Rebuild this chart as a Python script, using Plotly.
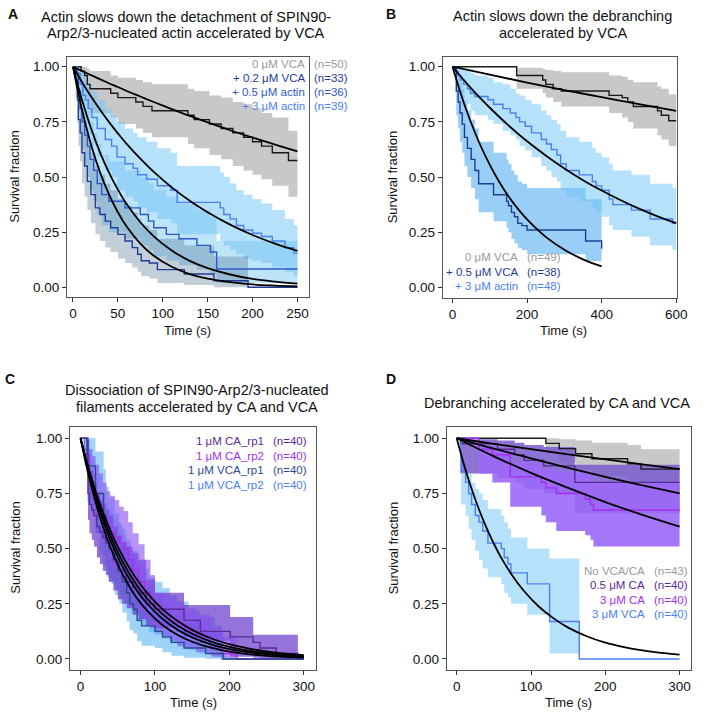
import plotly.graph_objects as go

# ---------------- Panel A data ----------------
A_vca0_t = [0, 9, 13, 16, 19, 42, 50, 70, 78, 88, 128, 135, 152, 165, 178, 190, 200, 210, 222, 240, 250]
A_vca0_s = [1, .98, .96, .92, .90, .88, .86, .84, .82, .80, .78, .76, .74, .72, .70, .68, .66, .64, .61, .575, .575]
A_vca0_hi = [1, 1, 1, .99, .98, .96, .95, .94, .93, .92, .90, .89, .87, .86, .84, .83, .81, .79, .77, .71, .71]
A_vca0_lo = [1, .87, .86, .81, .79, .77, .74, .72, .70, .68, .65, .63, .60, .58, .55, .53, .51, .49, .46, .41, .41]

A_act3_t = [0, 5, 8, 11, 14, 17, 21, 27, 36, 43, 49, 58, 67, 72, 82, 94, 109, 116, 164, 168, 175, 182, 190, 200, 210, 222, 236, 246, 250]
A_act3_s = [1, .97, .92, .87, .85, .81, .77, .72, .67, .64, .59, .56, .54, .51, .49, .46, .44, .385, .36, .33, .31, .28, .26, .245, .23, .21, .18, .155, .155]
A_act3_hi = [1, 1, .99, .97, .95, .92, .89, .85, .81, .78, .75, .72, .70, .68, .66, .63, .61, .55, .52, .50, .47, .44, .42, .40, .38, .35, .31, .28, .28]
A_act3_lo = [1, .92, .84, .77, .74, .69, .64, .59, .53, .50, .44, .41, .39, .36, .34, .31, .29, .24, .21, .19, .17, .15, .13, .12, .11, .09, .07, .05, .05]

A_act05_t = [0, 4, 6, 8, 10, 13, 16, 19, 23, 27, 32, 40, 58, 75, 84, 90, 104, 118, 138, 153, 160, 250]
A_act05_s = [1, .97, .89, .81, .75, .69, .64, .58, .53, .47, .42, .39, .36, .33, .30, .27, .24, .22, .19, .16, .083, .083]
A_act05_hi = [1, 1, .99, .95, .90, .85, .80, .75, .70, .65, .60, .57, .53, .50, .47, .44, .41, .38, .35, .32, .21, .21]
A_act05_lo = [1, .91, .80, .70, .63, .56, .50, .44, .39, .33, .28, .25, .22, .19, .17, .14, .12, .10, .08, .06, .02, .02]

A_vca02_t = [0, 3, 5, 6, 8, 10, 13, 16, 20, 25, 30, 36, 42, 50, 58, 66, 72, 76, 85, 94, 124, 157, 195, 250]
A_vca02_s = [1, .94, .85, .76, .70, .61, .55, .48, .42, .36, .33, .30, .27, .24, .21, .18, .15, .12, .11, .08, .06, .03, 0, 0]
A_vca02_hi = [1, 1, .97, .91, .86, .79, .73, .67, .61, .55, .51, .47, .44, .40, .37, .34, .31, .28, .26, .22, .19, .14, 0, 0]
A_vca02_lo = [1, .86, .74, .64, .57, .47, .41, .35, .29, .24, .21, .18, .16, .13, .11, .09, .07, .05, .04, .02, .01, 0, 0, 0]

A_fit_t = [0, 5, 10, 20, 30, 40, 50, 60, 75, 90, 110, 130, 150, 175, 200, 225, 250]
A_fit_vca0 = [1, .990, .981, .962, .944, .925, .908, .890, .865, .840, .808, .777, .748, .712, .679, .647, .616]
A_fit_act3 = [1, .965, .931, .866, .806, .750, .698, .649, .583, .523, .453, .392, .340, .284, .237, .198, .165]
A_fit_act05 = [1, .922, .850, .722, .613, .521, .443, .376, .295, .231, .167, .120, .087, .058, .038, .026, .017]
A_fit_vca02 = [1, .898, .806, .649, .523, .422, .340, .274, .198, .143, .093, .060, .039, .023, .013, .008, .0045]

# ---------------- Panel B data ----------------
B_vca0_t = [0, 172, 242, 250, 270, 292, 420, 455, 470, 485, 550, 560, 580, 600]
B_vca0_s = [1, .96, .94, .92, .90, .89, .87, .86, .84, .82, .80, .78, .755, .755]
B_vca0_hi = [1, .995, .99, .985, .98, .975, .96, .955, .94, .93, .91, .90, .875, .855]
B_vca0_lo = [1, .90, .88, .86, .84, .82, .79, .77, .75, .72, .69, .67, .64, .61]

B_vca05_t = [0, 10, 15, 20, 26, 32, 40, 50, 60, 70, 110, 145, 150, 158, 166, 175, 186, 200, 357, 400]
B_vca05_s = [1, .89, .84, .79, .74, .68, .63, .58, .53, .47, .42, .39, .37, .34, .32, .29, .28, .26, .21, .175]
B_vca05_hi = [1, .98, .96, .93, .90, .85, .80, .76, .72, .66, .61, .58, .56, .53, .51, .48, .47, .45, .40, .37]
B_vca05_lo = [1, .78, .72, .66, .61, .55, .50, .45, .40, .34, .30, .27, .25, .22, .20, .18, .17, .15, .12, .09]

B_act3_t = [0, 8, 15, 22, 30, 40, 48, 60, 95, 110, 135, 155, 170, 180, 195, 212, 238, 252, 265, 280, 290, 305, 340, 375, 385, 400, 420, 430, 480, 530, 590, 600]
B_act3_s = [1, .98, .96, .94, .92, .90, .88, .865, .85, .83, .81, .79, .77, .75, .73, .70, .67, .65, .625, .60, .56, .53, .51, .48, .46, .44, .40, .375, .35, .31, .29, .29]
B_act3_hi = [1, 1, 1, 1, .99, .98, .97, .96, .95, .93, .92, .90, .88, .87, .85, .83, .80, .78, .76, .74, .71, .68, .66, .63, .61, .59, .56, .53, .51, .47, .45, .45]
B_act3_lo = [1, .94, .91, .88, .85, .83, .80, .78, .76, .74, .71, .69, .67, .64, .62, .59, .55, .53, .50, .48, .44, .41, .39, .36, .34, .32, .28, .26, .23, .19, .17, .17]

B_fit_vca0_t = [0, 100, 200, 300, 400, 500, 600]
B_fit_vca0 = [1, .964, .928, .894, .862, .830, .800]
B_fit_act3_t = [0, 25, 50, 75, 100, 150, 200, 250, 300, 350, 400, 450, 500, 550, 600]
B_fit_act3 = [1, .950, .902, .857, .814, .734, .662, .598, .539, .486, .439, .396, .357, .322, .291]
B_fit_vca05_t = [0, 10, 20, 30, 40, 50, 75, 100, 125, 150, 175, 200, 250, 300, 350, 400]
B_fit_vca05 = [1, .943, .889, .838, .790, .745, .643, .555, .479, .413, .357, .308, .229, .171, .127, .095]

# ---------------- Panel C data ----------------
C_ca1_t = [0, 10, 12, 15, 18, 22, 26, 30, 34, 38, 44, 50, 56, 62, 70, 78, 88, 100, 139, 161, 201, 232, 241, 263, 292, 300]
C_ca1_s = [1, .75, .70, .675, .65, .60, .575, .55, .525, .50, .45, .40, .375, .35, .325, .30, .25, .225, .175, .125, .10, .075, .05, .025, 0, 0]
C_ca1_hi = [1, .87, .83, .81, .79, .75, .72, .70, .68, .65, .60, .56, .53, .51, .48, .45, .36, .30, .245, .245, .19, .11, .11, .11, 0, 0]
C_ca1_lo = [1, .63, .57, .54, .51, .46, .43, .40, .38, .35, .31, .27, .25, .23, .20, .18, .15, .14, .10, .08, .01, .005, 0, 0, 0, 0]

C_ca2_t = [0, 8, 12, 16, 20, 25, 30, 35, 40, 46, 52, 58, 64, 70, 78, 86, 94, 100, 110, 120, 130, 140, 155, 175, 190, 210, 300]
C_ca2_s = [1, .925, .85, .80, .75, .70, .65, .60, .575, .55, .525, .50, .45, .40, .35, .30, .25, .225, .20, .175, .15, .125, .10, .05, .025, 0, 0]
C_ca2_hi = [1, .99, .95, .92, .88, .84, .80, .76, .74, .72, .69, .67, .62, .57, .52, .45, .38, .30, .29, .27, .25, .23, .20, .14, .10, 0, 0]
C_ca2_lo = [1, .85, .75, .69, .63, .57, .51, .46, .43, .41, .38, .36, .31, .27, .22, .18, .14, .12, .10, .08, .06, .05, .03, .01, .004, 0, 0]

C_vca1_t = [0, 9, 20, 31, 34, 38, 46, 52, 56, 62, 66, 71, 76, 82, 100, 110, 122, 139, 168, 192, 300]
C_vca1_s = [1, .875, .75, .65, .575, .525, .45, .40, .35, .30, .25, .225, .175, .15, .125, .10, .075, .05, .025, 0, 0]
C_vca1_hi = [1, 1, .94, .86, .78, .73, .66, .61, .56, .51, .45, .42, .36, .33, .29, .25, .21, .17, .12, 0, 0]
C_vca1_lo = [1, .71, .57, .47, .40, .35, .29, .25, .21, .17, .13, .115, .08, .06, .05, .03, .015, .005, .001, 0, 0]

C_vca2_t = [0, 5, 10, 15, 20, 25, 30, 36, 42, 48, 54, 60, 68, 76, 84, 92, 100, 110, 120, 130, 145, 160, 180, 190, 300]
C_vca2_s = [1, .95, .85, .78, .70, .60, .55, .50, .475, .45, .425, .375, .325, .28, .25, .22, .20, .175, .15, .125, .10, .075, .05, 0, 0]
C_vca2_hi = [1, 1, .95, .90, .84, .76, .71, .67, .64, .62, .59, .54, .49, .44, .41, .37, .35, .32, .29, .26, .22, .19, .15, 0, 0]
C_vca2_lo = [1, .88, .75, .66, .57, .47, .42, .37, .34, .32, .29, .25, .21, .17, .15, .12, .11, .09, .07, .055, .04, .025, .01, 0, 0]

C_fit_t = [0, 10, 20, 30, 40, 50, 60, 75, 90, 110, 130, 150, 175, 200, 225, 250, 275, 300]
C_fit_1 = [1, .844, .712, .600, .507, .427, .361, .279, .217, .154, .110, .078, .051, .033, .022, .014, .0093, .0061]
C_fit_2 = [1, .856, .733, .628, .538, .461, .395, .313, .248, .182, .133, .098, .066, .045, .031, .021, .014, .0096]
C_fit_3 = [1, .865, .748, .647, .560, .484, .419, .337, .271, .203, .152, .114, .079, .055, .038, .027, .0185, .0129]
C_fit_4 = [1, .874, .763, .667, .583, .509, .445, .363, .297, .226, .173, .132, .094, .067, .048, .034, .024, .0174]

# ---------------- Panel D data ----------------
D_none_t = [0, 120, 138, 160, 182, 230, 248, 300]
D_none_s = [1, .977, .953, .93, .907, .884, .86, .86]
D_none_hi = [1, 1, .995, .99, .98, .97, .95, .95]
D_none_lo = [1, .93, .89, .86, .83, .80, .77, .77]

D_ca05_t = [0, 5, 55, 78, 91, 117, 159, 300]
D_ca05_s = [1, .975, .95, .925, .90, .875, .80, .80]
D_ca05_hi = [1, .996, .99, .98, .97, .96, .88, .88]
D_ca05_lo = [1, .84, .82, .80, .77, .75, .66, .66]

D_ca3_t = [0, 30, 48, 72, 114, 120, 134, 173, 180, 184, 300]
D_ca3_s = [1, .95, .925, .825, .80, .775, .75, .725, .70, .675, .675]
D_ca3_hi = [1, .97, .95, .89, .87, .86, .85, .84, .83, .80, .80]
D_ca3_lo = [1, .84, .80, .69, .65, .62, .58, .56, .54, .51, .51]

D_vca3_t = [0, 6, 12, 16, 20, 25, 30, 35, 42, 60, 64, 69, 73, 95, 125, 165, 300]
D_vca3_s = [1, .85, .80, .75, .70, .65, .62, .58, .525, .50, .46, .43, .39, .34, .17, 0, 0]
D_vca3_hi = [1, .84, .84, .84, .80, .77, .75, .72, .68, .65, .62, .59, .55, .50, .455, 0, 0]
D_vca3_lo = [1, .70, .65, .59, .54, .49, .45, .41, .37, .34, .30, .28, .25, .20, .025, 0, 0]

D_fit_slow_t = [0, 50, 100, 150, 200, 250, 300]
D_fit_none = [1, .975, .951, .927, .904, .882, .860]
D_fit_ca05 = [1, .953, .909, .866, .825, .787, .750]
D_fit_ca3 = [1, .918, .843, .775, .711, .653, .600]
D_fit_vca3_t = [0, 10, 20, 30, 40, 50, 60, 75, 90, 110, 130, 150, 175, 200, 225, 250, 275, 300]
D_fit_vca3 = [1, .878, .771, .677, .595, .522, .458, .377, .310, .239, .185, .142, .103, .074, .054, .039, .028, .020]

# ---------------- Text ----------------
A_title = ["Actin slows down the detachment of SPIN90-", "Arp2/3-nucleated actin accelerated by VCA"]
B_title = ["Actin slows down the debranching", "accelerated by VCA"]
C_title = ["Dissociation of SPIN90-Arp2/3-nucleated", "filaments accelerated by CA and VCA"]
D_title = ["Debranching accelerated by CA and VCA"]
A_leg = ["0 μM VCA", "+ 0.2 μM VCA", "+ 0.5 μM actin", "+ 3 μM actin"]
A_n = ["(n=50)", "(n=33)", "(n=36)", "(n=39)"]
B_leg = ["0 μM VCA", "+ 0.5 μM VCA", "+ 3 μM actin"]
B_n = ["(n=49)", "(n=38)", "(n=48)"]
C_leg = ["1 μM CA_rp1", "1 μM CA_rp2", "1 μM VCA_rp1", "1 μM VCA_rp2"]
C_n = ["(n=40)", "(n=40)", "(n=40)", "(n=40)"]
D_leg = ["No VCA/CA", "0.5 μM CA", "3 μM CA", "3 μM VCA"]
D_n = ["(n=43)", "(n=40)", "(n=40)", "(n=40)"]

FONT = "Liberation Sans, Arial, Helvetica, sans-serif"
W, H = 709, 716

GRAY_T = "#9a9a9a"
NAVY = "#1f3c94"
MID = "#2f57cc"
LIGHT = "#4a80f2"
DPURP = "#5a2a96"
BPURP = "#a22ff0"
VNAVY = "#2b4b8d"

LBLUE_FILL = "rgba(110,195,245,0.5)"
STEEL_FILL = "rgba(70,110,140,0.33)"
GRAY_FILL = "rgba(150,150,150,0.52)"

fig = go.Figure()


def band(t, lo, hi, color, ax):
    xa, ya = ax
    fig.add_trace(go.Scatter(x=t, y=lo, mode="lines", line=dict(width=0, shape="hv"),
                             xaxis=xa, yaxis=ya, showlegend=False, hoverinfo="skip"))
    fig.add_trace(go.Scatter(x=t, y=hi, mode="lines", line=dict(width=0, shape="hv"),
                             fill="tonexty", fillcolor=color,
                             xaxis=xa, yaxis=ya, showlegend=False, hoverinfo="skip"))


def km(t, s, color, ax, w=1.4):
    xa, ya = ax
    fig.add_trace(go.Scatter(x=t, y=s, mode="lines", line=dict(width=w, color=color, shape="hv"),
                             xaxis=xa, yaxis=ya, showlegend=False, hoverinfo="skip"))


def fit(t, s, ax):
    xa, ya = ax
    fig.add_trace(go.Scatter(x=t, y=s, mode="lines", line=dict(width=1.8, color="black", shape="spline"),
                             xaxis=xa, yaxis=ya, showlegend=False, hoverinfo="skip"))


AXA, AXB, AXC, AXD = ("x", "y"), ("x2", "y2"), ("x3", "y3"), ("x4", "y4")

# bands
band(A_vca0_t, A_vca0_lo, A_vca0_hi, GRAY_FILL, AXA)
band(A_act3_t, A_act3_lo, A_act3_hi, LBLUE_FILL, AXA)
band(A_act05_t, A_act05_lo, A_act05_hi, "rgba(110,195,245,0.45)", AXA)
band(A_vca02_t, A_vca02_lo, A_vca02_hi, STEEL_FILL, AXA)

band(B_vca0_t, B_vca0_lo, B_vca0_hi, GRAY_FILL, AXB)
band(B_vca05_t, B_vca05_lo, B_vca05_hi, "rgba(70,165,240,0.55)", AXB)
band(B_act3_t, B_act3_lo, B_act3_hi, LBLUE_FILL, AXB)

band(C_vca1_t, C_vca1_lo, C_vca1_hi, "rgba(80,175,240,0.55)", AXC)
band(C_vca2_t, C_vca2_lo, C_vca2_hi, "rgba(80,175,240,0.55)", AXC)
band(C_ca1_t, C_ca1_lo, C_ca1_hi, "rgba(110,60,205,0.72)", AXC)
band(C_ca2_t, C_ca2_lo, C_ca2_hi, "rgba(140,80,240,0.62)", AXC)

band(D_none_t, D_none_lo, D_none_hi, GRAY_FILL, AXD)
band(D_ca05_t, D_ca05_lo, D_ca05_hi, "rgba(120,90,205,0.85)", AXD)
band(D_ca3_t, D_ca3_lo, D_ca3_hi, "rgba(155,105,248,0.9)", AXD)
band(D_vca3_t, D_vca3_lo, D_vca3_hi, LBLUE_FILL, AXD)

# KM curves
km(A_vca0_t, A_vca0_s, "#1a1a1a", AXA)
km(A_act3_t, A_act3_s, LIGHT, AXA)
km(A_act05_t, A_act05_s, MID, AXA)
km(A_vca02_t, A_vca02_s, NAVY, AXA)

km(B_vca0_t, B_vca0_s, "#1a1a1a", AXB)
km(B_act3_t, B_act3_s, LIGHT, AXB)
km(B_vca05_t, B_vca05_s, NAVY, AXB)

km(C_vca2_t, C_vca2_s, LIGHT, AXC)
km(C_ca2_t, C_ca2_s, BPURP, AXC)
km(C_ca1_t, C_ca1_s, DPURP, AXC)
km(C_vca1_t, C_vca1_s, VNAVY, AXC)

km(D_none_t, D_none_s, "#1a1a1a", AXD)
km(D_ca05_t, D_ca05_s, DPURP, AXD)
km(D_ca3_t, D_ca3_s, BPURP, AXD)
km(D_vca3_t, D_vca3_s, LIGHT, AXD)

# fits
fit(A_fit_t, A_fit_vca0, AXA)
fit(A_fit_t, A_fit_act3, AXA)
fit(A_fit_t, A_fit_act05, AXA)
fit(A_fit_t, A_fit_vca02, AXA)
fit(B_fit_vca0_t, B_fit_vca0, AXB)
fit(B_fit_act3_t, B_fit_act3, AXB)
fit(B_fit_vca05_t, B_fit_vca05, AXB)
for f in (C_fit_1, C_fit_2, C_fit_3, C_fit_4):
    fit(C_fit_t, f, AXC)
fit(D_fit_slow_t, D_fit_none, AXD)
fit(D_fit_slow_t, D_fit_ca05, AXD)
fit(D_fit_slow_t, D_fit_ca3, AXD)
fit(D_fit_vca3_t, D_fit_vca3, AXD)


def px(x):
    return x / W


def py(y):
    return 1 - y / H


yticks = [0, 0.25, 0.5, 0.75, 1]
ytext = ["0.00", "0.25", "0.50", "0.75", "1.00"]


def xax(dom, rng, tv, anchor):
    return dict(domain=dom, range=rng, tickvals=tv, ticktext=[str(v) for v in tv], anchor=anchor,
                showline=True, mirror=True, linecolor="#555", linewidth=1,
                ticks="outside", ticklen=4, tickcolor="#333", tickwidth=1,
                showgrid=False, zeroline=False, fixedrange=True,
                tickfont=dict(family=FONT, size=13.5, color="#111"))


def yax(dom, rng, anchor):
    return dict(domain=dom, range=rng, tickvals=yticks, ticktext=ytext, anchor=anchor,
                showline=True, mirror=True, linecolor="#555", linewidth=1,
                ticks="outside", ticklen=4, tickcolor="#333", tickwidth=1,
                showgrid=False, zeroline=False, fixedrange=True,
                tickfont=dict(family=FONT, size=13.5, color="#111"))


xa1 = xax([px(68), px(313)], [-6.6, 262.4], [0, 50, 100, 150, 200, 250], "y")
xa2 = xax([px(449), px(687)], [-26.5, 603], [0, 200, 400, 600], "y2")
xa3 = xax([px(71), px(321)], [-14.2, 317], [0, 100, 200, 300], "y3")
xa4 = xax([px(453), px(701)], [-13.6, 315.5], [0, 100, 200, 300], "y4")
ya1 = yax([py(297), py(57)], [-0.044, 1.044], "x")
ya2 = yax([py(298), py(57)], [-0.048, 1.044], "x2")
ya3 = yax([py(670), py(427)], [-0.05, 1.051], "x3")
ya4 = yax([py(670), py(427)], [-0.05, 1.051], "x4")

ann = []


def text(x, y, s, size=13, color="#111", xanchor="center", bold=False, angle=0):
    ann.append(dict(x=px(x), y=py(y), xref="paper", yref="paper", text=("<b>%s</b>" % s) if bold else s,
                    showarrow=False, xanchor=xanchor, yanchor="middle", textangle=angle,
                    font=dict(family=FONT, size=size, color=color)))


# panel letters
text(13, 14, "A", 14, bold=True)
text(397, 14, "B", 14, bold=True)
text(10, 379, "C", 14, bold=True)
text(397, 379, "D", 14, bold=True)

# titles
text(189, 17, A_title[0], 14.5)
text(189, 33, A_title[1], 14.5)
text(571, 16, B_title[0], 14.5)
text(571, 33, B_title[1], 14.5)
text(200, 390, C_title[0], 14.5)
text(200, 407, C_title[1], 14.5)
text(565, 403, D_title[0], 14.5)

# axis titles
for xx, yy in [(15, 177), (399, 177), (15, 548), (399, 548)]:
    text(xx, yy, "Survival fraction", 13, angle=-90)
for xx, yy in [(190, 330), (572, 330), (196, 702), (577, 702)]:
    text(xx, yy, "Time (s)", 13)

# legends
A_cols = [GRAY_T, NAVY, MID, LIGHT]
for i in range(4):
    text(311, 64 + 13.9 * i, A_leg[i], 11.5, A_cols[i], xanchor="right")
    text(316, 64 + 13.9 * i, A_n[i], 11.5, A_cols[i], xanchor="left")
B_cols = [GRAY_T, NAVY, LIGHT]
for i in range(3):
    text(527, 257 + 14.5 * i, B_leg[i], 11.5, B_cols[i], xanchor="right")
    text(533, 257 + 14.5 * i, B_n[i], 11.5, B_cols[i], xanchor="left")
C_cols = [DPURP, BPURP, VNAVY, LIGHT]
for i in range(4):
    text(269.5, 441 + 14.6 * i, C_leg[i], 11.5, C_cols[i], xanchor="right")
    text(275, 441 + 14.6 * i, C_n[i], 11.5, C_cols[i], xanchor="left")
D_cols = [GRAY_T, DPURP, BPURP, LIGHT]
for i in range(4):
    text(656, 571 + 14.4 * i, D_leg[i], 11.5, D_cols[i], xanchor="right")
    text(661, 571 + 14.4 * i, D_n[i], 11.5, D_cols[i], xanchor="left")

fig.update_layout(
    width=W, height=H, margin=dict(l=0, r=0, t=0, b=0),
    paper_bgcolor="white", plot_bgcolor="white",
    xaxis=xa1, yaxis=ya1, xaxis2=xa2, yaxis2=ya2,
    xaxis3=xa3, yaxis3=ya3, xaxis4=xa4, yaxis4=ya4,
    annotations=ann, showlegend=False, hovermode=False,
    font=dict(family=FONT),
)

fig.write_html("out.html", config={"displayModeBar": False, "staticPlot": True},
               post_script="document.body.style.margin='0px';document.body.style.overflow='hidden';")
